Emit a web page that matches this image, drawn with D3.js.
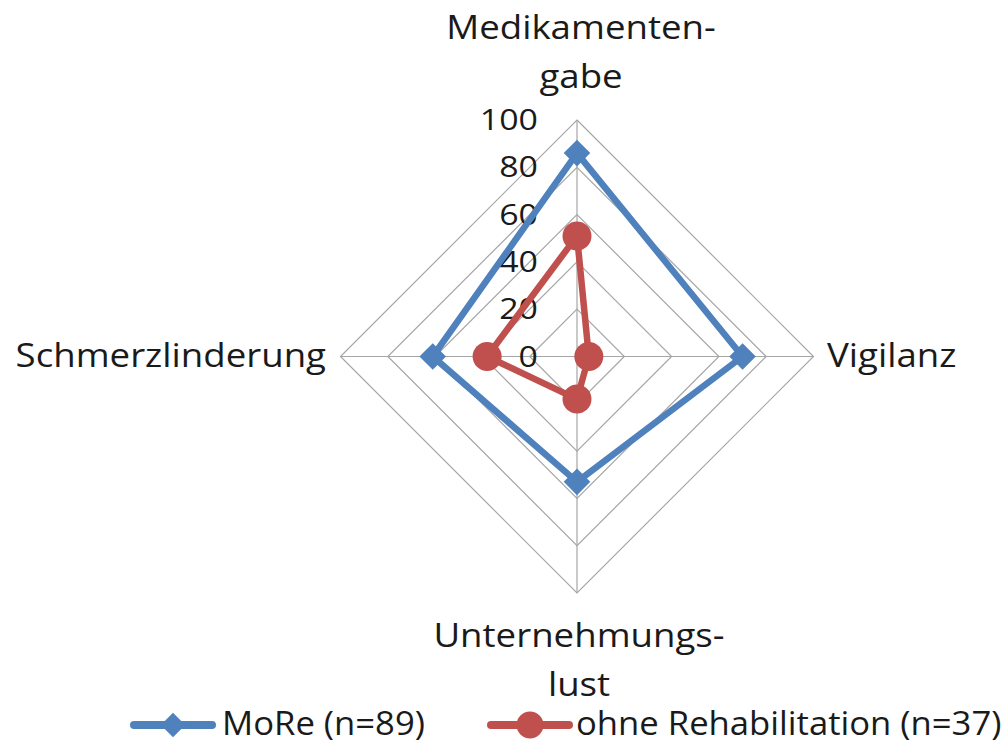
<!DOCTYPE html>
<html><head><meta charset="utf-8">
<script src="https://cdn.jsdelivr.net/npm/d3@7"></script>
<style>body{margin:0;background:#fff}svg{display:block}text{font-family:"Open Sans",Lato,sans-serif;fill:#1a1a1a}</style>
</head><body>
<script>
const categories = ["Medikamenten-\ngabe", "Vigilanz", "Unternehmungs-\nlust", "Schmerzlinderung"];
const seriesNames = ["MoRe (n=89)", "ohne Rehabilitation (n=37)"];
const more = [86, 70, 53, 61];
const ohne = [51, 5, 18, 38];
const tickValues = [0, 20, 40, 60, 80, 100];
const colors = ["#4F81BD", "#C0504D"];

const W = 1003, H = 745, cx = 577, cy = 356.5, R = 236.5;
const svg = d3.select("body").append("svg").attr("width", W).attr("height", H);
const r = d3.scaleLinear().domain([0, 100]).range([0, R]);
const ang = d3.scaleLinear().domain([0, categories.length]).range([0, 2 * Math.PI]);
const pt = (i, v) => [cx + r(v) * Math.sin(ang(i)), cy - r(v) * Math.cos(ang(i))];

const g = svg.append("g");
function stext(parent, x, y, anchor, size, sx) {
  return parent.append("g").attr("transform", `translate(${x},${y}) scale(${sx},1)`)
    .append("text").attr("x", 0).attr("y", 0).attr("text-anchor", anchor).attr("font-size", size);
}
// grid
tickValues.slice(1).forEach(t => {
  g.append("path").attr("d", d3.line()(categories.map((c, i) => pt(i, t))) + "Z")
    .attr("fill", "none").attr("stroke", "#A6A6A6").attr("stroke-width", 1.2);
});
categories.forEach((c, i) => {
  const [x, y] = pt(i, 100);
  g.append("line").attr("x1", cx).attr("y1", cy).attr("x2", x).attr("y2", y)
    .attr("stroke", "#A6A6A6").attr("stroke-width", 1.2);
});
// tick labels
tickValues.forEach(t => {
  stext(g, cx - 39, cy - r(t) + 10, "end", 30, 1.13).text(t);
});
// series
[more, ohne].forEach((vals, s) => {
  const pts = vals.map((v, i) => pt(i, v));
  g.append("path").attr("d", d3.line()(pts) + "Z").attr("fill", "none")
    .attr("stroke", colors[s]).attr("stroke-width", 6.5).attr("stroke-linejoin", "round");
  pts.forEach(p => {
    if (s === 0) {
      g.append("path").attr("d", d3.symbol(d3.symbolDiamond2, 450)())
        .attr("transform", `translate(${p[0]},${p[1]})`).attr("fill", colors[s]);
    } else {
      g.append("circle").attr("cx", p[0]).attr("cy", p[1]).attr("r", 14.5).attr("fill", colors[s]);
    }
  });
});
// category labels
const FS = 33, SX = 1.11;
const labelPos = [
  {x: cx + 4, y: 39, anchor: "middle"},
  {x: 827, y: 367, anchor: "start"},
  {x: cx + 2, y: 647, anchor: "middle"},
  {x: 326, y: 367, anchor: "end"}
];
categories.forEach((c, i) => {
  const lp = labelPos[i];
  const t = stext(g, lp.x, lp.y, lp.anchor, FS, SX);
  c.split("\n").forEach((line, k) => {
    t.append("tspan").attr("x", 0).attr("dy", k === 0 ? 0 : 49).text(line);
  });
});
// legend
const legX = [134, 491], legTextX = [222, 576], ly = 725;
seriesNames.forEach((n, s) => {
  g.append("line").attr("x1", legX[s]).attr("x2", legX[s] + 78).attr("y1", ly).attr("y2", ly)
    .attr("stroke", colors[s]).attr("stroke-width", 8).attr("stroke-linecap", "round");
  const mx = legX[s] + 39;
  if (s === 0) g.append("path").attr("d", d3.symbol(d3.symbolDiamond2, 380)()).attr("transform", `translate(${mx},${ly})`).attr("fill", colors[s]);
  else g.append("circle").attr("cx", mx).attr("cy", ly).attr("r", 13.5).attr("fill", colors[s]);
  stext(g, legTextX[s], 735, "start", FS, 1.05).text(n);
});
</script>
</body></html>
